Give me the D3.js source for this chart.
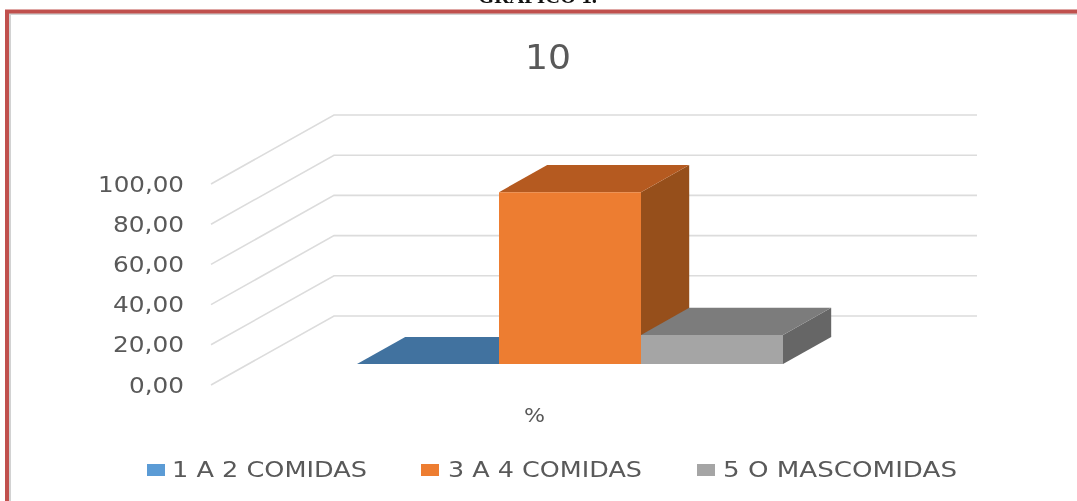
<!DOCTYPE html>
<html><head><meta charset="utf-8">
<script src="https://cdn.jsdelivr.net/npm/d3@7"></script>
<style>html,body{margin:0;padding:0;background:#fff;overflow:hidden}svg{display:block}</style>
</head><body><svg id="c" width="1077" height="501"></svg>
<script>
const seriesNames = ["1 A 2 COMIDAS", "3 A 4 COMIDAS", "5 O MASCOMIDAS"];
const seriesValues = [0, 85.5, 14.5];
const yTicks = [0, 20, 40, 60, 80, 100];
const yTickLabels = ["0,00", "20,00", "40,00", "60,00", "80,00", "100,00"];
const categoryLabel = "%";
const chartTitle = "10";
const headingText = "GRAFICO 1.";
const frontColors = ["#5b9bd5", "#ed7d31", "#a5a5a5"];
const topColors = ["#41729f", "#b55a20", "#7c7c7c"];
const sideColors = ["#35608a", "#964f1b", "#666666"];

const svg = d3.select("#c");
const font = "'DejaVu Sans', sans-serif";
const y = d3.scaleLinear().domain([0, 100]).range([385, 184]);
const depthX = d3.scaleLinear().domain([0, 1]).range([0, 123]);
const depthY = d3.scaleLinear().domain([0, 1]).range([0, -69]);
const wallX0 = 211, wallX1 = 854;
const barFront = 0.304, barBack = 0.696;
const x = d3.scaleBand().domain(seriesNames).range([357, 783]).padding(0);

function label(g, str, xLeft, width, base, size, fill, weight, family) {
  return g.append("text").text(str).attr("x", xLeft).attr("y", base)
    .attr("font-family", family || font).attr("font-size", size)
    .attr("font-weight", weight || 400).attr("fill", fill)
    .attr("textLength", width).attr("lengthAdjust", "spacingAndGlyphs");
}

// frame
svg.append("path").attr("d", "M10 505V14H1080").attr("fill", "none").attr("stroke", "#d2d2d2").attr("stroke-width", 2);
svg.append("path").attr("d", "M7 505V11.5H1080").attr("fill", "none").attr("stroke", "#c0504d").attr("stroke-width", 4);

// walls and gridlines
const line = d3.line();
svg.append("g").selectAll("path").data(yTicks).join("path")
  .attr("d", v => line([
    [wallX0, y(v)],
    [wallX0 + depthX(1), y(v) + depthY(1)],
    [wallX1 + depthX(1), y(v) + depthY(1)]
  ]))
  .attr("fill", "none").attr("stroke", "#dcdcdc").attr("stroke-width", 1.6);

// 3D bars
const floorY = d => y(0) + depthY(d);
const barHeight = v => y(0) - y(v);
const bars = svg.append("g");
seriesNames.forEach((n, i) => {
  const v = seriesValues[i];
  const x0 = x(n), x1 = x(n) + x.bandwidth();
  const h = barHeight(v);
  const fy = floorY(barFront), by = floorY(barBack);
  const dx = depthX(barBack) - depthX(barFront);
  const g = bars.append("g");
  g.append("path").attr("fill", sideColors[i]).attr("d", line([
    [x1, fy], [x1 + dx, by], [x1 + dx, by - h], [x1, fy - h]
  ]) + "Z");
  g.append("path").attr("fill", topColors[i]).attr("d", line([
    [x0, fy - h], [x0 + dx, by - h], [x1 + dx, by - h], [x1, fy - h]
  ]) + "Z");
  g.append("path").attr("fill", frontColors[i]).attr("d", line([
    [x0, fy], [x0, fy - h], [x1, fy - h], [x1, fy]
  ]) + "Z");
});

// text
const t = svg.append("g").style("filter", "blur(0.4px)");
label(t, headingText, 478, 119, 3, 22, "#111", 700, "'Liberation Serif', serif");
label(t, chartTitle, 525, 46, 69, 33, "#595959");
const tickWidth = s => s.length === 6 ? 86 : s.length === 5 ? 71 : 55;
yTicks.forEach((v, i) => {
  const s = yTickLabels[i];
  label(t, s, 184 - tickWidth(s), tickWidth(s), y(v) + 7.5, 22, "#595959");
});
label(t, categoryLabel, 524, 21, 422, 20, "#595959");

// legend
const legendSwatchX = [147, 421, 697], legendTextX = [172, 448, 723], legendTextW = [195, 194, 234];
seriesNames.forEach((n, i) => {
  svg.append("rect").attr("x", legendSwatchX[i]).attr("y", 464)
    .attr("width", 18).attr("height", 12).attr("fill", frontColors[i]);
  label(t, n, legendTextX[i], legendTextW[i], 477, 22, "#595959");
});
</script></body></html>
